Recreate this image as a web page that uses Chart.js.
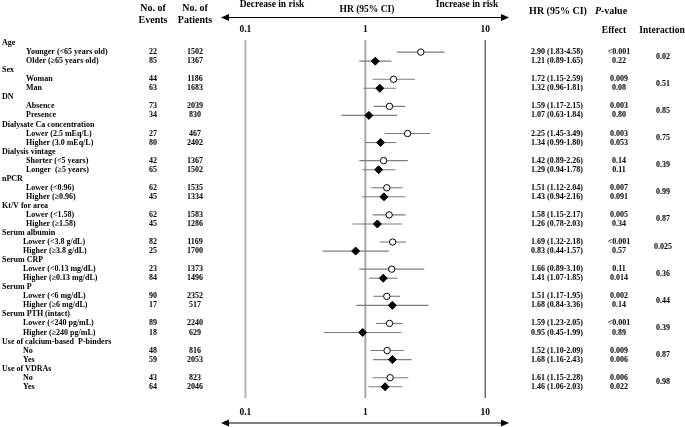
<!DOCTYPE html>
<html>
<head>
<meta charset="utf-8">
<script src="https://cdn.jsdelivr.net/npm/chart.js@4/dist/chart.umd.min.js"></script>
<style>
  body { margin: 0; background: #fff; }
  canvas { display: block; }
</style>
</head>
<body>
<canvas id="forest" width="685" height="427"></canvas>
<script>
// subgroup data
const groups = ['Age', 'Sex', 'DN', 'Dialysate Ca concentration', 'Dialysis vintage', 'nPCR',
  'Kt/V for area', 'Serum albumin', 'Serum CRP', 'Serum P', 'Serum PTH (intact)',
  'Use of calcium-based  P-binders', 'Use of VDRAs'];
const subgroups = [
  ['Younger (<65 years old)', 'Older (\u226565 years old)'],
  ['Woman', 'Man'],
  ['Absence', 'Presence'],
  ['Lower (2.5 mEq/L)', 'Higher (3.0 mEq/L)'],
  ['Shorter (<5 years)', 'Longer  (\u22655 years)'],
  ['Lower (<0.96)', 'Higher (\u22650.96)'],
  ['Lower (<1.58)', 'Higher (\u22651.58)'],
  ['Lower (<3.8 g/dL)', 'Higher (\u22653.8 g/dL)'],
  ['Lower (<0.13 mg/dL)', 'Higher (\u22650.13 mg/dL)'],
  ['Lower (<6 mg/dL)', 'Higher (\u22656 mg/dL)'],
  ['Lower (<240 pg/mL)', 'Higher (\u2265240 pg/mL)'],
  ['No', 'Yes'],
  ['No', 'Yes']
];
const events = [[22, 85], [44, 63], [73, 34], [27, 80], [42, 65], [62, 45], [62, 45],
  [82, 25], [23, 84], [90, 17], [89, 18], [48, 59], [43, 64]];
const patients = [[1502, 1367], [1186, 1683], [2039, 830], [467, 2402], [1367, 1502], [1535, 1334],
  [1583, 1286], [1169, 1700], [1373, 1496], [2352, 517], [2240, 629], [816, 2053], [823, 2046]];
const hr = [[2.90, 1.21], [1.72, 1.32], [1.59, 1.07], [2.25, 1.34], [1.42, 1.29], [1.51, 1.43],
  [1.58, 1.26], [1.69, 0.83], [1.66, 1.41], [1.51, 1.68], [1.59, 0.95], [1.52, 1.68], [1.61, 1.46]];
const ciLow = [[1.83, 0.89], [1.15, 0.96], [1.17, 0.63], [1.45, 0.99], [0.89, 0.94], [1.12, 0.94],
  [1.15, 0.78], [1.32, 0.44], [0.89, 1.07], [1.17, 0.84], [1.23, 0.45], [1.10, 1.16], [1.15, 1.06]];
const ciHigh = [[4.58, 1.65], [2.59, 1.81], [2.15, 1.84], [3.49, 1.80], [2.26, 1.78], [2.04, 2.16],
  [2.17, 2.03], [2.18, 1.57], [3.10, 1.85], [1.95, 3.36], [2.05, 1.99], [2.09, 2.43], [2.28, 2.03]];
const pEffect = [['<0.001', '0.22'], ['0.009', '0.08'], ['0.003', '0.80'], ['0.003', '0.053'],
  ['0.14', '0.11'], ['0.007', '0.091'], ['0.005', '0.34'], ['<0.001', '0.57'], ['0.11', '0.014'],
  ['0.002', '0.14'], ['<0.001', '0.89'], ['0.009', '0.006'], ['0.006', '0.022']];
const pInteraction = ['0.02', '0.51', '0.85', '0.75', '0.39', '0.99', '0.87', '0.025', '0.36',
  '0.44', '0.39', '0.87', '0.98'];
const xTicks = [0.1, 1, 10];

// row index: group header at 3k, its two subgroups at 3k+1 and 3k+2
const rowOf = (k, j) => 3 * k + 1 + j;
const fmt = v => v.toFixed(2);

const ciSets = [];
const firstPts = [];
const secondPts = [];
groups.forEach((g, k) => {
  [0, 1].forEach(j => {
    const r = rowOf(k, j);
    ciSets.push({
      type: 'line',
      data: [{ x: ciLow[k][j], y: r }, { x: ciHigh[k][j], y: r }],
      borderColor: '#7c7c7c',
      borderWidth: 1.1,
      pointRadius: 0,
      order: 2
    });
    (j === 0 ? firstPts : secondPts).push({ x: hr[k][j], y: r });
  });
});

const serif = '"Liberation Serif", "Times New Roman", serif';

const decor = {
  id: 'decor',
  beforeDatasetsDraw(chart) {
    const ctx = chart.ctx;
    const xs = chart.scales.x;
    ctx.save();
    // reference lines at 0.1, 1, 10
    const lineCols = ['#b4b4b4', '#a8a8a8', '#6e6e6e'];
    xTicks.forEach((t, i) => {
      const px = xs.getPixelForValue(t);
      ctx.strokeStyle = lineCols[i];
      ctx.lineWidth = i === 2 ? 1.5 : 2;
      ctx.beginPath();
      ctx.moveTo(px, 40);
      ctx.lineTo(px, 398);
      ctx.stroke();
    });
    // double-headed arrows
    [17.5, 423].forEach(y => {
      const x0 = 221, x1 = 509;
      ctx.strokeStyle = '#000';
      ctx.fillStyle = '#000';
      ctx.lineWidth = 1.2;
      ctx.beginPath();
      ctx.moveTo(x0 + 4, y);
      ctx.lineTo(x1 - 4, y);
      ctx.stroke();
      ctx.beginPath();
      ctx.moveTo(x0, y); ctx.lineTo(x0 + 8, y - 3.5); ctx.lineTo(x0 + 8, y + 3.5); ctx.closePath();
      ctx.fill();
      ctx.beginPath();
      ctx.moveTo(x1, y); ctx.lineTo(x1 - 8, y - 3.5); ctx.lineTo(x1 - 8, y + 3.5); ctx.closePath();
      ctx.fill();
    });
    ctx.restore();
  },
  afterDraw(chart) {
    const ctx = chart.ctx;
    const xs = chart.scales.x;
    const ys = chart.scales.y;
    ctx.save();
    ctx.fillStyle = '#000';
    ctx.textBaseline = 'middle';
    const txt = (s, x, y, align, size) => {
      ctx.font = 'bold ' + size + 'px ' + serif;
      ctx.textAlign = align;
      ctx.fillText(s, x, y);
    };
    // column headers
    txt('No. of', 153, 8, 'center', 10);
    txt('Events', 153, 20, 'center', 10);
    txt('No. of', 195, 8, 'center', 10);
    txt('Patients', 195, 20, 'center', 10);
    txt('Decrease in risk', 272, 5, 'center', 9.5);
    txt('HR (95% CI)', 367, 10, 'center', 9.5);
    txt('Increase in risk', 467, 5, 'center', 9.5);
    txt('HR (95% CI)', 558, 11, 'center', 10);
    ctx.font = 'bold italic 10px ' + serif;
    ctx.textAlign = 'left';
    const pw = ctx.measureText('P').width;
    ctx.font = 'bold 10px ' + serif;
    const vw = ctx.measureText('-value').width;
    const px0 = 611 - (pw + vw) / 2;
    ctx.font = 'bold italic 10px ' + serif;
    ctx.fillText('P', px0, 11);
    ctx.font = 'bold 10px ' + serif;
    ctx.fillText('-value', px0 + pw, 11);
    txt('Effect', 614, 31, 'center', 9.5);
    txt('Interaction', 662, 31, 'center', 9.5);
    // tick labels above and below
    xTicks.forEach(t => {
      const px = xs.getPixelForValue(t);
      txt(String(t), px, 30, 'center', 9.5);
      txt(String(t), px, 413, 'center', 9.5);
    });
    // table rows
    groups.forEach((g, k) => {
      txt(g, 2, ys.getPixelForValue(3 * k), 'left', 8);
      const indent = k < 7 ? 26 : 23;
      [0, 1].forEach(j => {
        const y = ys.getPixelForValue(rowOf(k, j));
        txt(subgroups[k][j], indent, y, 'left', 8);
        txt(String(events[k][j]), 153, y, 'center', 8);
        txt(String(patients[k][j]), 195, y, 'center', 8);
        txt(fmt(hr[k][j]) + ' (' + fmt(ciLow[k][j]) + '-' + fmt(ciHigh[k][j]) + ')', 557, y, 'center', 8);
        txt(pEffect[k][j], 619, y, 'center', 8);
      });
      txt(pInteraction[k], 663, ys.getPixelForValue(3 * k + 1.5), 'center', 8);
    });
    ctx.restore();
  }
};

new Chart(document.getElementById('forest'), {
  type: 'scatter',
  data: {
    datasets: ciSets.concat([
      {
        data: firstPts,
        pointStyle: 'circle',
        pointRadius: 3.2,
        pointBackgroundColor: '#fff',
        pointBorderColor: '#000',
        pointBorderWidth: 1,
        order: 1
      },
      {
        data: secondPts,
        pointStyle: 'rectRot',
        pointRadius: 4,
        pointBackgroundColor: '#000',
        pointBorderColor: '#000',
        pointBorderWidth: 1,
        order: 1
      }
    ])
  },
  options: {
    responsive: false,
    animation: false,
    layout: { padding: 0 },
    plugins: { legend: { display: false }, tooltip: { enabled: false } },
    scales: {
      x: { type: 'logarithmic', min: Math.pow(10, -3.005), max: Math.pow(10, 2.624), display: false },
      y: { type: 'linear', min: -4.21, max: 41.9, reverse: true, display: false }
    }
  },
  plugins: [decor]
});
</script>
</body>
</html>
